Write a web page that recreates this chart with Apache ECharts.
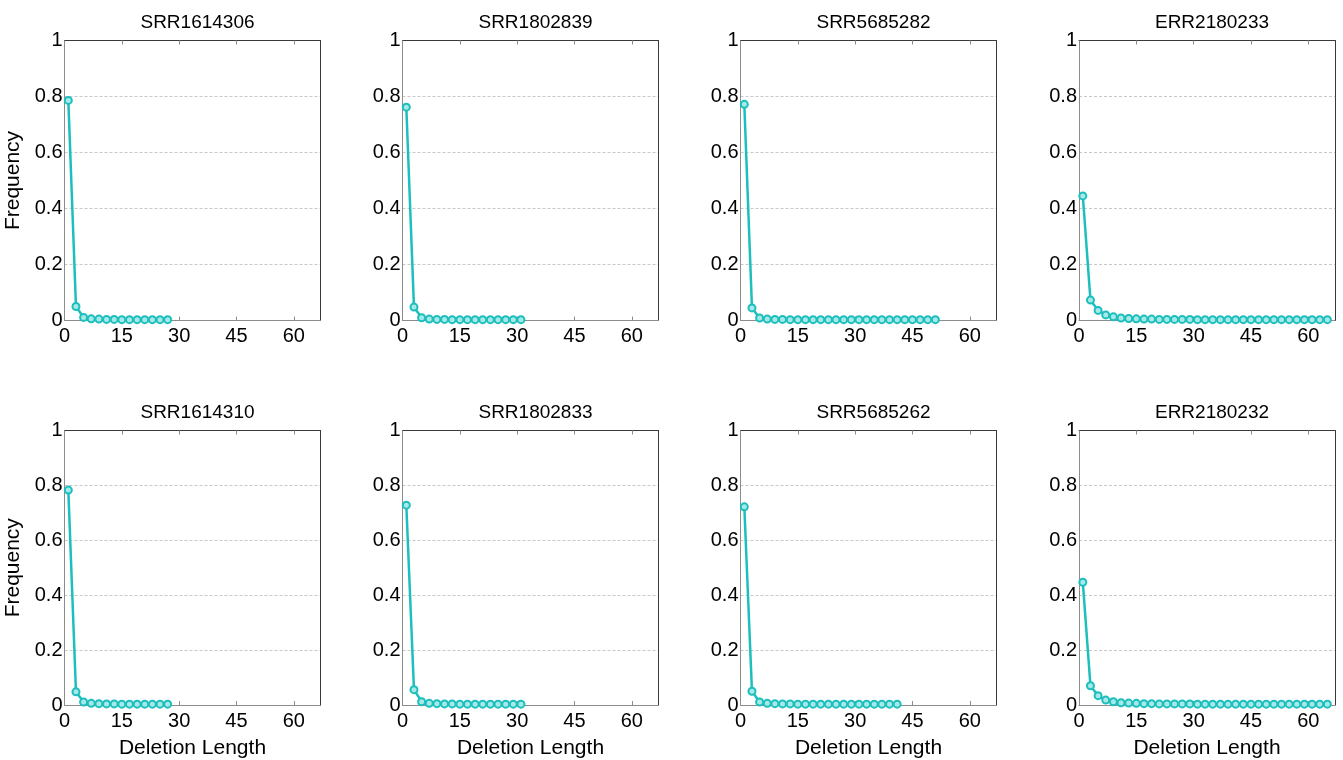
<!DOCTYPE html>
<html>
<head>
<meta charset="utf-8">
<script src="https://cdn.jsdelivr.net/npm/echarts@6/dist/echarts.min.js"></script>
<style>
  html, body { margin: 0; padding: 0; background: #fff; }
  #chart { width: 1343px; height: 760px; }
</style>
</head>
<body>
<div id="chart"></div>
<script>
// Deletion lengths sampled (odd lengths)
const deletionLengths = [1, 3, 5, 7, 9, 11, 13, 15, 17, 19, 21, 23, 25, 27, 29, 31, 33,
  35, 37, 39, 41, 43, 45, 47, 49, 51, 53, 55, 57, 59, 61, 63, 65];

const runNames = ['SRR1614306', 'SRR1802839', 'SRR5685282', 'ERR2180233',
                  'SRR1614310', 'SRR1802833', 'SRR5685262', 'ERR2180232'];

// Frequency of each deletion length per run
const freqSRR1614306 = [0.786, 0.050, 0.011, 0.006, 0.005, 0.004, 0.004, 0.003, 0.003, 0.003, 0.003, 0.003, 0.003, 0.003];
const freqSRR1802839 = [0.762, 0.048, 0.010, 0.005, 0.004, 0.004, 0.003, 0.003, 0.003, 0.003, 0.003, 0.003, 0.003, 0.003, 0.003, 0.003];
const freqSRR5685282 = [0.772, 0.045, 0.009, 0.005, 0.004, 0.004, 0.003, 0.003, 0.003, 0.003, 0.003, 0.003, 0.003,
                        0.003, 0.003, 0.003, 0.003, 0.003, 0.003, 0.003, 0.003, 0.003, 0.003, 0.003, 0.003, 0.003];
const freqERR2180233 = [0.445, 0.073, 0.036, 0.020, 0.013, 0.009, 0.007, 0.006, 0.005, 0.005, 0.004, 0.004, 0.004,
                        0.004, 0.004, 0.003, 0.003, 0.003, 0.003, 0.003, 0.003, 0.003, 0.003, 0.003, 0.003, 0.003,
                        0.003, 0.003, 0.003, 0.003, 0.003, 0.003, 0.003];
const freqSRR1614310 = [0.783, 0.048, 0.011, 0.006, 0.005, 0.004, 0.004, 0.003, 0.003, 0.003, 0.003, 0.003, 0.003, 0.003];
const freqSRR1802833 = [0.728, 0.056, 0.012, 0.006, 0.005, 0.004, 0.004, 0.003, 0.003, 0.003, 0.003, 0.003, 0.003, 0.003, 0.003, 0.003];
const freqSRR5685262 = [0.722, 0.050, 0.011, 0.006, 0.005, 0.004, 0.004, 0.003, 0.003, 0.003, 0.003, 0.003, 0.003,
                        0.003, 0.003, 0.003, 0.003, 0.003, 0.003, 0.003, 0.003];
const freqERR2180232 = [0.447, 0.070, 0.034, 0.018, 0.012, 0.008, 0.007, 0.006, 0.005, 0.005, 0.004, 0.004, 0.004,
                        0.004, 0.004, 0.003, 0.003, 0.003, 0.003, 0.003, 0.003, 0.003, 0.003, 0.003, 0.003, 0.003,
                        0.003, 0.003, 0.003, 0.003, 0.003, 0.003, 0.003];

const runFreqs = [freqSRR1614306, freqSRR1802839, freqSRR5685282, freqERR2180233,
                  freqSRR1614310, freqSRR1802833, freqSRR5685262, freqERR2180232];

const xTicks = [0, 15, 30, 45, 60];

const FONT = '"Liberation Sans", Arial, Helvetica, sans-serif';
const LINE = '#1cbfbd';
const colLeft = [64.5, 402.5, 740.5, 1079];
const rowTop = [40.5, 430.5];
const panelW = 256;
const panelH = [280, 278];

const grids = [], xAxes = [], yAxes = [], series = [], titles = [];

runNames.forEach((name, i) => {
  const r = Math.floor(i / 4), c = i % 4;
  const left = colLeft[c], top = rowTop[r], h = panelH[r];
  grids.push({ left: left, top: top, width: panelW, height: h, containLabel: false, show: false });

  // bottom axis with labels
  xAxes.push({
    gridIndex: i, type: 'value', min: 0, max: 67, position: 'bottom',
    axisLine: { show: true, onZero: false, lineStyle: { color: '#8c8c8c', width: 1 } },
    axisTick: { show: true, inside: true, length: 4, lineStyle: { color: '#8c8c8c' },
                customValues: xTicks },
    axisLabel: { show: true, color: '#000', fontFamily: FONT, fontSize: 20, margin: 6,
                 customValues: xTicks },
    splitLine: { show: false },
    name: r === 1 ? 'Deletion Length' : '', nameLocation: 'middle', nameGap: 33,
    nameTextStyle: { color: '#000', fontFamily: FONT, fontSize: 21 }
  });
  // top frame edge
  xAxes.push({
    gridIndex: i, type: 'value', min: 0, max: 67, position: 'top',
    axisLine: { show: true, onZero: false, lineStyle: { color: '#3a3a3a', width: 1 } },
    axisTick: { show: true, inside: true, length: 4, lineStyle: { color: '#8c8c8c' },
                customValues: xTicks },
    axisLabel: { show: false }, splitLine: { show: false }
  });
  // left axis with labels
  yAxes.push({
    gridIndex: i, type: 'value', min: 0, max: 1, interval: 0.2, position: 'left',
    axisLine: { show: true, onZero: false, lineStyle: { color: '#8c8c8c', width: 1 } },
    axisTick: { show: false },
    axisLabel: { show: true, color: '#000', fontFamily: FONT, fontSize: 20, margin: 2 },
    splitLine: { show: true, lineStyle: { color: '#c8c8c8', type: [3, 2], width: 1 } },
    name: c === 0 ? 'Frequency' : '', nameLocation: 'middle', nameGap: 41,
    nameTextStyle: { color: '#000', fontFamily: FONT, fontSize: 21 }
  });
  // right frame edge
  yAxes.push({
    gridIndex: i, type: 'value', min: 0, max: 1, interval: 0.2, position: 'right',
    axisLine: { show: true, onZero: false, lineStyle: { color: '#3a3a3a', width: 1 } },
    axisTick: { show: false }, axisLabel: { show: false }, splitLine: { show: false }
  });

  titles.push({
    text: name, left: left + panelW / 2, top: top - 32, textAlign: 'center',
    textStyle: { fontFamily: FONT, fontSize: 19, fontWeight: 'normal', color: '#000' }
  });

  const vals = runFreqs[i];
  series.push({
    type: 'line', xAxisIndex: 2 * i, yAxisIndex: 2 * i,
    data: vals.map((v, k) => [deletionLengths[k], v]),
    symbol: 'circle', symbolSize: 7, showAllSymbol: true,
    lineStyle: { color: LINE, width: 2.5 },
    itemStyle: { color: '#a6e9e7', borderColor: LINE, borderWidth: 2 },
    emphasis: { disabled: true }, animation: false, z: 3
  });
});

const chart = echarts.init(document.getElementById('chart'), null, { renderer: 'canvas' });
chart.setOption({
  backgroundColor: '#fff',
  animation: false,
  title: titles,
  grid: grids,
  xAxis: xAxes,
  yAxis: yAxes,
  series: series
});
</script>
</body>
</html>
